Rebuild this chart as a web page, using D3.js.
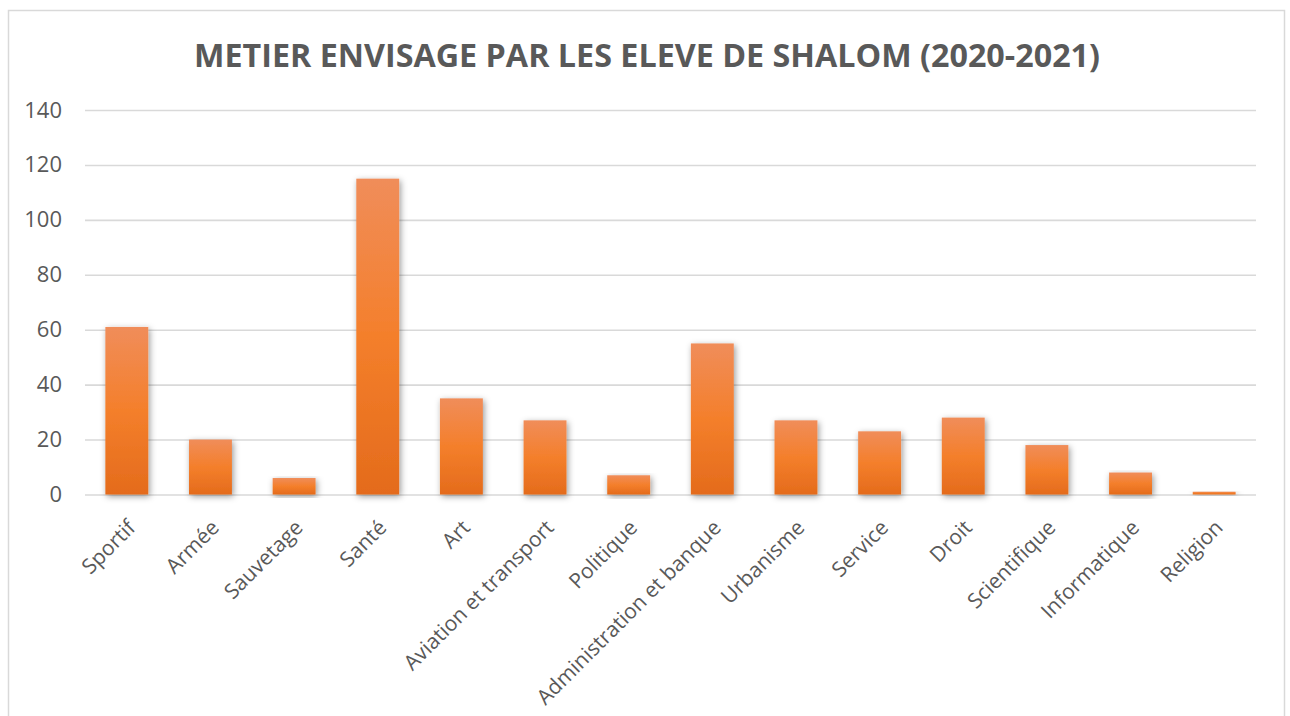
<!DOCTYPE html>
<html>
<head>
<meta charset="utf-8">
<script src="https://cdn.jsdelivr.net/npm/d3@7"></script>
<style>
  body { margin: 0; background: #fff; }
  text { font-family: "Open Sans", sans-serif; fill: #595959; }
</style>
</head>
<body>
<script>
var categories = ["Sportif", "Armée", "Sauvetage", "Santé", "Art", "Aviation et transport",
  "Politique", "Administration et banque", "Urbanisme", "Service", "Droit",
  "Scientifique", "Informatique", "Religion"];
var values = [61, 20, 6, 115, 35, 27, 7, 55, 27, 23, 28, 18, 8, 1];
var yTicks = [0, 20, 40, 60, 80, 100, 120, 140];
var title = "METIER ENVISAGE PAR LES ELEVE DE SHALOM (2020-2021)";

var WIDTH = 1290,
    HEIGHT = 716;

var margin = {left: 85, right: 34, top: 110, bottom: 222};

var svg = d3.select("body").append("svg")
      .attr("width", WIDTH)
      .attr("height", HEIGHT);

var defs = svg.append("defs");

var grad = defs.append("linearGradient")
    .attr("id", "barGrad")
    .attr("x1", 0).attr("y1", 0).attr("x2", 0).attr("y2", 1);
grad.append("stop").attr("offset", "0%").attr("stop-color", "#f08d5a");
grad.append("stop").attr("offset", "50%").attr("stop-color", "#f47f2b");
grad.append("stop").attr("offset", "100%").attr("stop-color", "#e46b1c");

var shadow = defs.append("filter")
    .attr("id", "shadow")
    .attr("x", "-30%").attr("y", "-10%")
    .attr("width", "160%").attr("height", "130%");
shadow.append("feDropShadow")
    .attr("dx", 1.5).attr("dy", 2)
    .attr("stdDeviation", 3)
    .attr("flood-color", "#000")
    .attr("flood-opacity", 0.4);

// chart frame
svg.append("rect")
  .attr("x", 8.5).attr("y", 10.5)
  .attr("width", 1276).attr("height", 720)
  .attr("fill", "#fff")
  .attr("stroke", "#d9d9d9")
  .attr("stroke-width", 1.5);

svg.append("text")
  .attr("x", 647).attr("y", 67)
  .attr("text-anchor", "middle")
  .attr("textLength", 906)
  .attr("lengthAdjust", "spacingAndGlyphs")
  .style("font-size", "32px")
  .style("font-weight", "bold")
  .text(title);

var x = d3.scaleBand()
    .domain(categories)
    .range([margin.left, WIDTH - margin.right])
    .paddingInner(0.487)
    .paddingOuter(0.2435);

var y = d3.scaleLinear()
    .domain([0, 140])
    .range([494.5, margin.top]);

// gridlines
var yAxis = d3.axisLeft(y)
    .tickValues(yTicks)
    .tickSize(-(WIDTH - margin.right - margin.left))
    .tickPadding(23);

var gy = svg.append("g")
    .attr("transform", "translate(" + margin.left + ",0)")
    .call(yAxis);
gy.select(".domain").remove();
gy.selectAll(".tick line")
    .attr("stroke", "#d9d9d9")
    .attr("stroke-width", 1.6);
gy.selectAll(".tick text")
    .style("font-size", "22px")
    .style("fill", "#595959");

// bars
svg.append("g").selectAll("rect")
  .data(values)
  .enter().append("rect")
  .attr("x", function(d, i) { return x(categories[i]); })
  .attr("y", function(d) { return y(d); })
  .attr("width", x.bandwidth())
  .attr("height", function(d) { return y(0) - y(d); })
  .attr("fill", "url(#barGrad)")
  .attr("filter", "url(#shadow)");

// category labels
svg.append("g").selectAll("text")
  .data(categories)
  .enter().append("text")
  .attr("transform", function(d) {
    var cx = x(d) + x.bandwidth() / 2 + 10;
    return "translate(" + cx + ",529) rotate(-45)";
  })
  .attr("text-anchor", "end")
  .style("font-size", "21px")
  .text(function(d) { return d; });
</script>
</body>
</html>
